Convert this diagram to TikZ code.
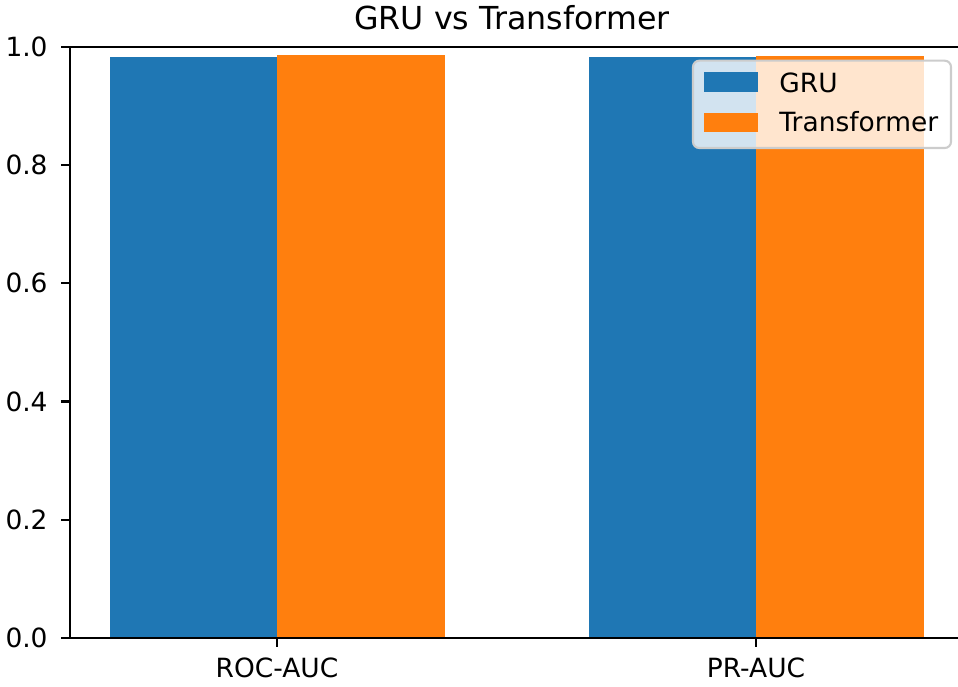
\documentclass[tikz,border=0pt]{standalone}
\usepackage{fontspec}
\setmainfont{DejaVu Sans}
\usepackage{xcolor}
\usepackage{tikz}
\usetikzlibrary{positioning}
\definecolor{grublue}{HTML}{1F77B4}
\definecolor{trforange}{HTML}{FF7F0E}
\definecolor{legedge}{HTML}{CCCCCC}
\tikzset{
  spine/.style={line width=1pt, draw=black},
  tck/.style={line width=1pt, draw=black},
  tcklbl/.style={font=\fontsize{12.7}{15}\selectfont, inner sep=0pt},
  barg/.style={fill=grublue, draw=none},
  bart/.style={fill=trforange, draw=none},
  legbox/.style={draw=legedge, line width=1pt, fill=white, fill opacity=.8, rounded corners=3pt},
  leglbl/.style={font=\fontsize{12.7}{15}\selectfont, inner sep=0pt, anchor=west},
}
% y of a value on the axis (pixel units)
\newcommand{\yval}[1]{638-#1*591.3}
\begin{document}
\begin{tikzpicture}[x=0.48pt,y=-0.48pt]
  \useasboundingbox (0,0) rectangle (958,686);
  % bars
  \foreach \xc/\vg/\vt in {277/0.982/0.986, 756/0.982/0.985}{
    \fill[barg] (\xc-167.5,638) rectangle (\xc,{\yval{\vg}});
    \fill[bart] (\xc,638) rectangle (\xc+167.5,{\yval{\vt}});
  }
  % axes
  \coordinate (ll) at (70,638);
  \coordinate (ul) at (70,46.7);
  \coordinate (lr) at (958,638);
  \coordinate (ur) at (958,46.7);
  \draw[spine] (lr) -- (ll) -- (ul) -- (ur);
  % y ticks
  \foreach \v in {0.0,0.2,0.4,0.6,0.8,1.0}{
    \draw[tck] (61,{\yval{\v}}) -- (70,{\yval{\v}});
    \node[tcklbl, anchor=east] (yl\v) at (48,{\yval{\v}}) {\v};
  }
  % x ticks
  \foreach \xc/\lab/\nm in {277/ROC-AUC/roc, 756/PR-AUC/pr}{
    \draw[tck] (\xc,638) -- (\xc,647);
    \node[tcklbl] (xl\nm) at (\xc,668) {\lab};
  }
  \node[font=\fontsize{15.2}{18}\selectfont, inner sep=0pt] (title) at (512,18) {GRU vs Transformer};
  % legend
  \draw[legbox] (693,60.7) rectangle (951,148);
  \fill[barg] (704,72) rectangle (758,92);
  \fill[bart] (704,113) rectangle (758,132);
  \node[leglbl] (lgru) at (779,82.5) {GRU};
  \node[leglbl] (ltrf) at (779,122) {Transformer};
\end{tikzpicture}
\end{document}
